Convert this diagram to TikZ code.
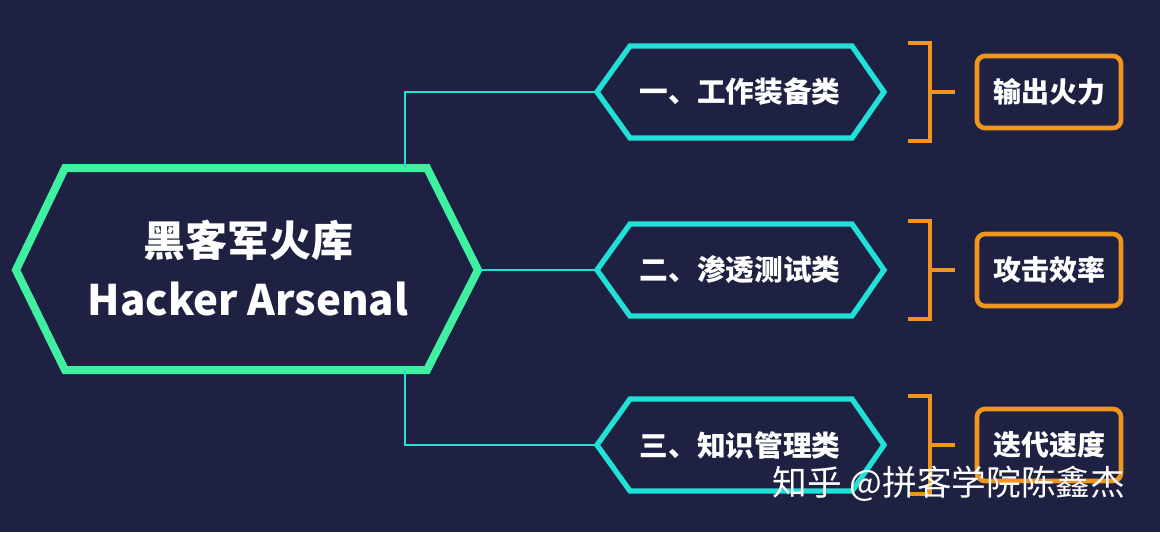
\documentclass[tikz,border=0pt]{standalone}
\usepackage{fontspec}
\setmainfont{Noto Sans CJK SC}
\begin{document}
\begin{tikzpicture}[x=0.75pt,y=-0.75pt,
  bg/.style={fill={rgb,255:red,30;green,33;blue,66}},
  mainhex/.style={draw={rgb,255:red,62;green,240;blue,160},line width=6pt,line join=miter},
  subhex/.style={draw={rgb,255:red,32;green,224;blue,216},line width=4pt},
  conn/.style={draw={rgb,255:red,32;green,224;blue,216},line width=2pt},
  brk/.style={draw={rgb,255:red,240;green,150;blue,30},line width=2.5pt},
  obox/.style={draw={rgb,255:red,240;green,150;blue,30},line width=3.5pt,rounded corners=6pt,minimum width=108pt,minimum height=54pt,text=white,font=\fontsize{21}{24}\selectfont\bfseries},
  lbl/.style={text=white,font=\fontsize{21.5}{24}\selectfont\bfseries}]
\fill[bg] (0,0) rectangle (1160,532);
\useasboundingbox (0,0) rectangle (1160,532);
% main hexagon
\draw[mainhex] (16,270) -- (65,168) -- (427,168) -- (478,270) -- (427,370) -- (65,370) -- cycle;
\node[text=white,align=center,font=\fontsize{31.5}{44}\selectfont\bfseries] (main) at (248,268) {黑客军火库\\Hacker Arsenal};
\coordinate (mt) at (405,168);
\coordinate (mr) at (480,270);
\coordinate (mb) at (405,370);
% sub hexagons
\foreach \y/\n/\t in {92/a/一、工作装备类, 270/b/二、渗透测试类, 445/c/三、知识管理类}{
  \draw[subhex] (597,\y) -- (630,\y-46) -- (852,\y-46) -- (884,\y) -- (852,\y+46) -- (630,\y+46) -- cycle;
  \coordinate (\n) at (597,\y);
  \node[lbl] (t\n) at (740,\y) {\t};
  \draw[brk] (908,\y-49) -- (930,\y-49) -- (930,\y+49) -- (908,\y+49);
  \draw[brk] (930,\y) -- (955,\y);
}
\draw[conn] (mt) |- (a);
\draw[conn] (mr) -- (b);
\draw[conn] (mb) |- (c);
\node[obox] (oa) at (1049,92) {输出火力};
\node[obox] (ob) at (1049,270) {攻击效率};
\node[obox] (oc) at (1049,445) {迭代速度};
\node[text=white,font=\fontsize{26}{30}\selectfont,anchor=east] (wm) at (1130,484) {知乎 @拼客学院陈鑫杰};
\end{tikzpicture}
\end{document}
